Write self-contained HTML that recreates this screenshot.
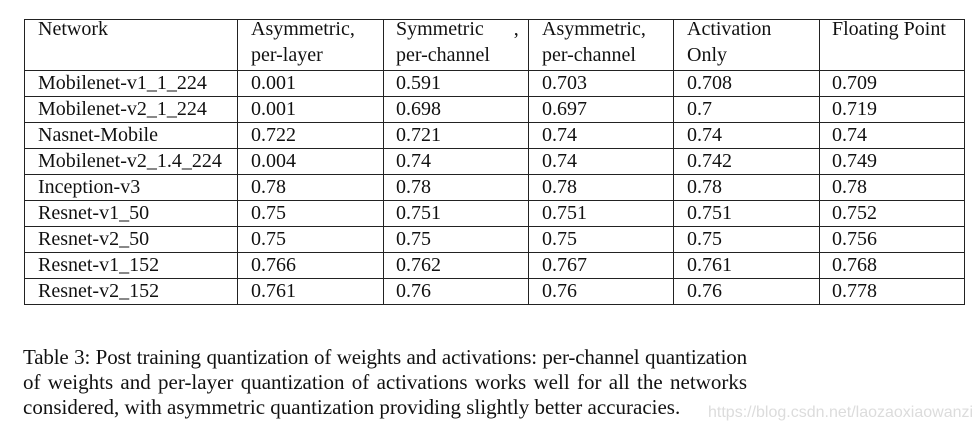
<!DOCTYPE html>
<html>
<head>
<meta charset="utf-8">
<style>
  html,body{margin:0;padding:0;background:#fff;}
  #c{position:relative;width:980px;height:434px;overflow:hidden;background:#fff;
     font-family:"Liberation Serif","Times New Roman",serif;color:#111;}
  .h{position:absolute;left:24px;width:941px;height:1px;background:#222;}
  .v{position:absolute;top:19px;height:286px;width:1px;background:#222;}
  .t{position:absolute;font-size:20px;line-height:26px;white-space:nowrap;}
  #cap{position:absolute;left:23px;top:345px;width:724px;font-size:21px;line-height:25px;}
  #cap div{white-space:nowrap;}
  #cap .j{text-align:justify;text-align-last:justify;white-space:normal;}
  #wm{position:absolute;left:708px;top:404px;font-family:"Liberation Sans",Arial,sans-serif;
      font-size:16px;color:#dcdcdc;white-space:nowrap;}
</style>
</head>
<body>
<div id="c">
  <div class="h" style="top:19px"></div>
  <div class="h" style="top:70px"></div>
  <div class="h" style="top:96px"></div>
  <div class="h" style="top:122px"></div>
  <div class="h" style="top:148px"></div>
  <div class="h" style="top:174px"></div>
  <div class="h" style="top:200px"></div>
  <div class="h" style="top:226px"></div>
  <div class="h" style="top:252px"></div>
  <div class="h" style="top:278px"></div>
  <div class="h" style="top:304px"></div>
  <div class="v" style="left:24px"></div>
  <div class="v" style="left:237px"></div>
  <div class="v" style="left:383px"></div>
  <div class="v" style="left:528px"></div>
  <div class="v" style="left:673px"></div>
  <div class="v" style="left:819px"></div>
  <div class="v" style="left:964px"></div>

  <div class="t" style="left:38px;top:16px">Network</div>
  <div class="t" style="left:251px;top:16px">Asymmetric,<br>per-layer</div>
  <div class="t" style="left:396px;top:16px">Symmetric&nbsp;&nbsp;&nbsp;&nbsp;&nbsp;&nbsp;,<br>per-channel</div>
  <div class="t" style="left:542px;top:16px">Asymmetric,<br>per-channel</div>
  <div class="t" style="left:687px;top:16px">Activation<br>Only</div>
  <div class="t" style="left:832px;top:16px">Floating Point</div>

  <div class="t" style="left:38px;top:70px">Mobilenet-v1_1_224<br>Mobilenet-v2_1_224<br>Nasnet-Mobile<br>Mobilenet-v2_1.4_224<br>Inception-v3<br>Resnet-v1_50<br>Resnet-v2_50<br>Resnet-v1_152<br>Resnet-v2_152</div>
  <div class="t" style="left:251px;top:70px">0.001<br>0.001<br>0.722<br>0.004<br>0.78<br>0.75<br>0.75<br>0.766<br>0.761</div>
  <div class="t" style="left:396px;top:70px">0.591<br>0.698<br>0.721<br>0.74<br>0.78<br>0.751<br>0.75<br>0.762<br>0.76</div>
  <div class="t" style="left:542px;top:70px">0.703<br>0.697<br>0.74<br>0.74<br>0.78<br>0.751<br>0.75<br>0.767<br>0.76</div>
  <div class="t" style="left:687px;top:70px">0.708<br>0.7<br>0.74<br>0.742<br>0.78<br>0.751<br>0.75<br>0.761<br>0.76</div>
  <div class="t" style="left:832px;top:70px">0.709<br>0.719<br>0.74<br>0.749<br>0.78<br>0.752<br>0.756<br>0.768<br>0.778</div>

  <div id="cap">
    <div class="j" style="word-spacing:-4px;letter-spacing:-0.15px">Table 3: Post training quantization of weights and activations: per-channel quantization</div>
    <div class="j">of weights and per-layer quantization of activations works well for all the networks</div>
    <div>considered, with asymmetric quantization providing slightly better accuracies.</div>
  </div>
  <div id="wm">https://blog.csdn.net/laozaoxiaowanzi</div>
</div>
</body>
</html>
